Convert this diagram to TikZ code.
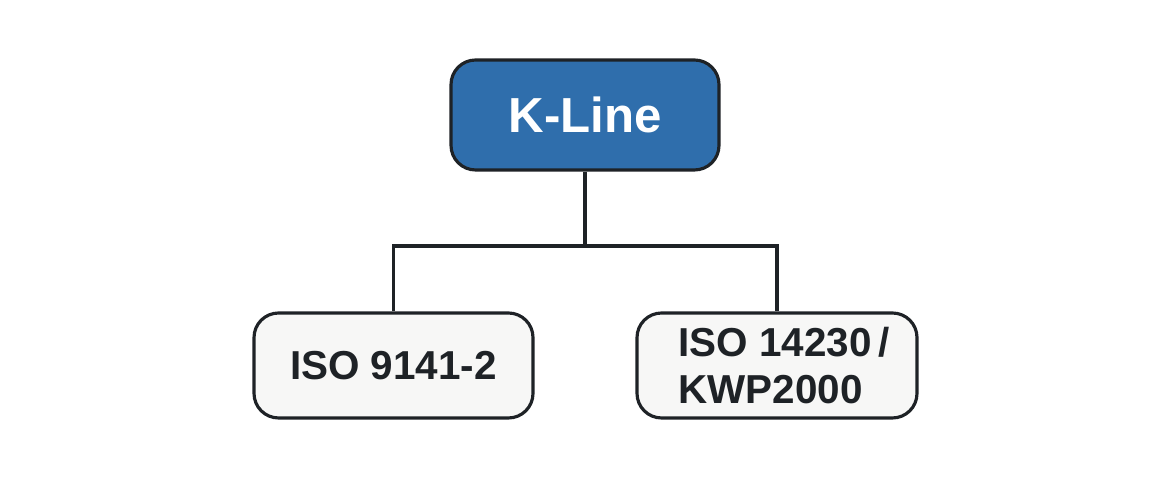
\documentclass[tikz,border=0pt]{standalone}
\usepackage{fontspec}
\setmainfont{Liberation Sans}
\definecolor{klblue}{HTML}{2F6EAC}
\definecolor{kldark}{HTML}{1E2226}
\definecolor{klgrey}{HTML}{F7F7F6}
\begin{document}
\begin{tikzpicture}[x=1cm, y=1cm,
    box/.style={draw=kldark, line width=0.9pt, rounded corners=7pt, font=\bfseries, align=left},
    link/.style={draw=kldark, line width=0.9pt}]
    \useasboundingbox (0,0) rectangle (11.7,4.8);
    % bloco principal
    \node[box, fill=klblue, text=white, minimum width=2.68cm, minimum height=1.1cm, font=\bfseries\fontsize{14}{16}\selectfont] (kline) at (5.85,3.65) {K-Line};
    % normas
    \node[box, fill=klgrey, text=kldark, minimum width=2.79cm, minimum height=1.05cm, font=\bfseries\fontsize{11.5}{13.5}\selectfont] (iso9141) at (3.935,1.145) {ISO 9141-2};
    \node[box, fill=klgrey, text=kldark, minimum width=2.80cm, minimum height=1.05cm, font=\bfseries\fontsize{11.5}{13.5}\selectfont] (iso14230) at (7.77,1.145) {\hspace{4pt}ISO 14230\,/\\\hspace{4pt}KWP2000};
    % ligações
    \coordinate (bar) at (5.85,2.34);
    \draw[link] (kline.south) -- (bar);
    \draw[link] (iso9141.north) |- (bar) -| (iso14230.north);
\end{tikzpicture}
\end{document}
